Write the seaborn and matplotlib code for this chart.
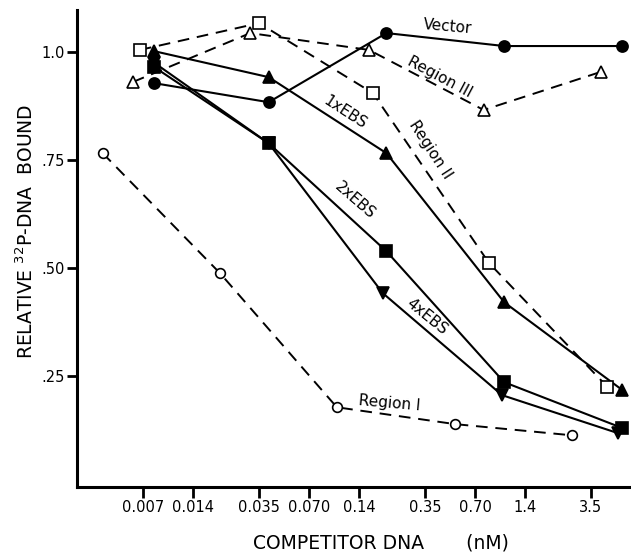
import numpy as np
import pandas as pd
import matplotlib
matplotlib.use("Agg")
import matplotlib.pyplot as plt
import seaborn as sns

# competitor concentrations (nM)
conc_main = [0.0082, 0.040, 0.205, 1.05, 5.4]
conc_4x = [0.0082, 0.040, 0.195, 1.02, 5.1]
conc_r1 = [0.0040, 0.0204, 0.103, 0.53, 2.7]
conc_r2 = [0.0067, 0.035, 0.170, 0.85, 4.4]
conc_r3 = [0.0061, 0.031, 0.161, 0.79, 4.0]

vector = [0.928, 0.884, 1.044, 1.014, 1.014]
ebs1 = [1.002, 0.942, 0.766, 0.421, 0.218]
ebs2 = [0.965, 0.789, 0.539, 0.236, 0.130]
ebs4 = [0.975, 0.789, 0.442, 0.206, 0.118]
region1 = [0.766, 0.488, 0.178, 0.139, 0.113]
region2 = [1.005, 1.067, 0.905, 0.512, 0.225]
region3 = [0.931, 1.044, 1.005, 0.866, 0.954]

tick_vals = [0.007, 0.014, 0.035, 0.070, 0.14, 0.35, 0.70, 1.4, 3.5]
tick_labels = ["0.007", "0.014", "0.035", "0.070", "0.14", "0.35", "0.70", "1.4", "3.5"]

sns.set_style("ticks")
plt.rcParams["font.family"] = ["DejaVu Sans"]
plt.rcParams.update({"text.color": "black", "axes.labelcolor": "black",
                     "xtick.color": "black", "ytick.color": "black",
                     "axes.edgecolor": "black"})

fig = plt.figure(figsize=(6.31, 5.53), dpi=100)
ax = fig.add_axes([0.122, 0.119, 0.878, 0.8626])

solid = dict(color="black", lw=1.5, markeredgecolor="black", markeredgewidth=1.2)
dashed = dict(color="black", lw=1.4, linestyle=(0, (6, 4)), markeredgecolor="black",
              markeredgewidth=1.2, markerfacecolor="white")

series = [
    (conc_main, vector, "o", solid, 8),
    (conc_main, ebs1, "^", solid, 9),
    (conc_main, ebs2, "s", solid, 8),
    (conc_4x, ebs4, "v", solid, 9),
    (conc_r1, region1, "o", dashed, 7),
    (conc_r2, region2, "s", dashed, 8),
    (conc_r3, region3, "^", dashed, 8),
]
for xs, ys, mk, kw, ms in series:
    df = pd.DataFrame({"x": xs, "y": ys})
    sns.lineplot(data=df, x="x", y="y", ax=ax, marker=mk, markersize=ms, **kw)

ax.set_xscale("log")
ax.set_xlim(0.0028, 6.1)
ax.set_ylim(-0.007, 1.097)
ax.set_xticks(tick_vals)
ax.set_xticklabels(tick_labels)
ax.xaxis.set_minor_locator(matplotlib.ticker.NullLocator())
ax.set_yticks([0.25, 0.5, 0.75, 1.0])
ax.set_yticklabels([".25", ".50", ".75", "1.0"])
ax.tick_params(axis="x", direction="out", length=8, width=2, labelsize=10.5, pad=1.5)
ax.tick_params(axis="y", direction="out", length=7, width=2, labelsize=10.5, pad=2)

sns.despine(ax=ax)
for side in ["left", "bottom"]:
    ax.spines[side].set_linewidth(2.2)

ax.set_xlabel("COMPETITOR DNA       (nM)", fontsize=13.5)
ax.set_ylabel("RELATIVE $^{32}$P-DNA  BOUND", fontsize=13.5)
ax.xaxis.set_label_coords(0.549, -0.098)
ax.yaxis.set_label_coords(-0.072, 0.535)

lab = dict(fontsize=11, ha="center", va="center")
ax.text(0.48, 1.058, "Vector", rotation=-5, **lab)
ax.text(0.43, 0.942, "Region III", rotation=-28, **lab)
ax.text(0.115, 0.861, "1xEBS", rotation=-33, **lab)
ax.text(0.375, 0.773, "Region II", rotation=-57, **lab)
ax.text(0.132, 0.657, "2xEBS", rotation=-41, **lab)
ax.text(0.36, 0.387, "4xEBS", rotation=-39, **lab)
ax.text(0.215, 0.1875, "Region I", rotation=-5, **lab)

fig.savefig("out.png", dpi=100)
